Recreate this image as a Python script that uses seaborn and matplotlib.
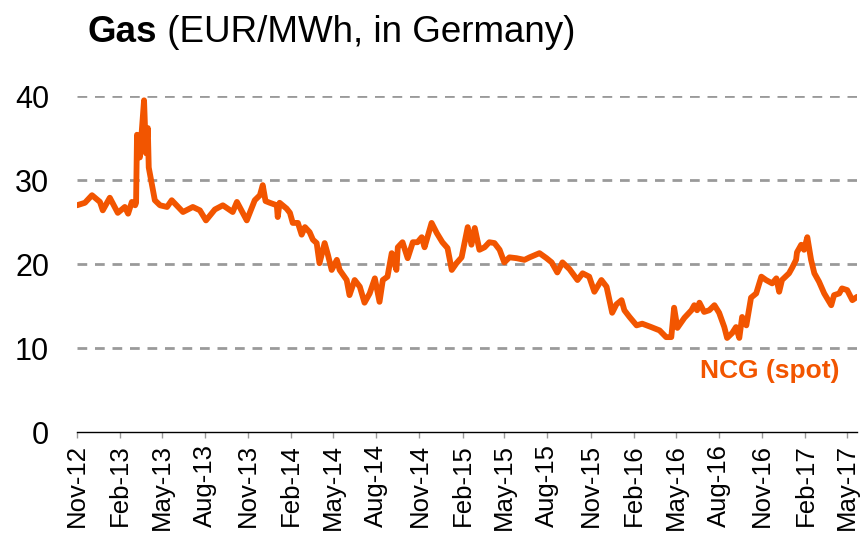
import pandas as pd
import numpy as np
import matplotlib
matplotlib.use("Agg")
import matplotlib.pyplot as plt
import matplotlib.dates as mdates
import seaborn as sns

# NCG spot gas price
dates = [
    "2012-11-01", "2012-11-18", "2012-12-03", "2012-12-20", "2012-12-26",
    "2013-01-10", "2013-01-27", "2013-02-11", "2013-02-18", "2013-02-26",
    "2013-03-05", "2013-03-07", "2013-03-09", "2013-03-15", "2013-03-24",
    "2013-03-28", "2013-04-01", "2013-04-03", "2013-04-16", "2013-04-27",
    "2013-05-12", "2013-05-22", "2013-06-15", "2013-07-06", "2013-07-21",
    "2013-08-03", "2013-08-22", "2013-09-08", "2013-09-29", "2013-10-08",
    "2013-10-29", "2013-11-15", "2013-11-26", "2013-12-02", "2013-12-08",
    "2013-12-17", "2014-01-01", "2014-01-03", "2014-01-07", "2014-01-22",
    "2014-01-29", "2014-02-04", "2014-02-15", "2014-02-23", "2014-03-02",
    "2014-03-12", "2014-03-19", "2014-03-27", "2014-04-02", "2014-04-13",
    "2014-04-20", "2014-04-28", "2014-05-09", "2014-05-15", "2014-05-30",
    "2014-06-05", "2014-06-16", "2014-06-27", "2014-07-07", "2014-07-18",
    "2014-07-29", "2014-08-08", "2014-08-15", "2014-08-25", "2014-09-03",
    "2014-09-13", "2014-09-16", "2014-09-26", "2014-10-07", "2014-10-18",
    "2014-10-28", "2014-11-06", "2014-11-12", "2014-11-27", "2014-12-08",
    "2014-12-20", "2014-12-31", "2015-01-09", "2015-01-19", "2015-01-30",
    "2015-02-12", "2015-02-20", "2015-02-27", "2015-03-09", "2015-03-20",
    "2015-03-30", "2015-04-10", "2015-04-21", "2015-05-01", "2015-05-12",
    "2015-05-27", "2015-06-13", "2015-06-24", "2015-07-15", "2015-07-30",
    "2015-08-10", "2015-08-22", "2015-09-02", "2015-09-17", "2015-10-04",
    "2015-10-15", "2015-10-29", "2015-11-09", "2015-11-24", "2015-12-05",
    "2015-12-17", "2015-12-26", "2016-01-06", "2016-01-12", "2016-01-23",
    "2016-02-07", "2016-02-19", "2016-03-09", "2016-03-27", "2016-04-10",
    "2016-04-21", "2016-04-27", "2016-05-04", "2016-05-19", "2016-06-03",
    "2016-06-09", "2016-06-15", "2016-06-20", "2016-06-30", "2016-07-11",
    "2016-07-22", "2016-08-01", "2016-08-12", "2016-08-18", "2016-08-29",
    "2016-09-06", "2016-09-13", "2016-09-19", "2016-09-28", "2016-10-08",
    "2016-10-19", "2016-10-30", "2016-11-09", "2016-11-22", "2016-12-01",
    "2016-12-07", "2016-12-13", "2016-12-28", "2017-01-04", "2017-01-12",
    "2017-01-14", "2017-01-23", "2017-01-29", "2017-02-05", "2017-02-13",
    "2017-02-20", "2017-03-02", "2017-03-13", "2017-03-28", "2017-04-03",
    "2017-04-14", "2017-04-20", "2017-05-01", "2017-05-12", "2017-05-22",
]
ncg_spot = [
    27.0, 27.3, 28.2, 27.4, 26.4,
    27.9, 26.1, 26.8, 26.0, 27.4,
    27.0, 27.3, 35.4, 32.7, 39.5,
    33.2, 36.2, 31.5, 27.6, 27.0,
    26.8, 27.6, 26.2, 26.8, 26.4,
    25.2, 26.5, 27.0, 26.2, 27.4,
    25.2, 27.6, 28.2, 29.4, 27.5,
    27.3, 27.0, 25.6, 27.3, 26.6,
    26.1, 24.9, 24.9, 23.5, 24.4,
    23.8, 22.9, 22.5, 20.1, 22.5,
    21.1, 19.3, 20.5, 19.3, 18.1,
    16.3, 18.1, 17.3, 15.4, 16.5,
    18.3, 15.5, 18.1, 18.5, 21.3,
    19.3, 22.0, 22.6, 20.7, 22.6,
    22.6, 23.2, 22.0, 24.9, 23.7,
    22.6, 21.9, 19.3, 20.1, 20.8,
    24.4, 22.3, 24.3, 21.7, 22.0,
    22.6, 22.5, 21.7, 20.2, 20.8,
    20.7, 20.5, 20.8, 21.3, 20.7,
    20.2, 19.0, 20.2, 19.4, 18.1,
    18.9, 18.5, 16.7, 18.1, 17.3,
    14.2, 15.2, 15.7, 14.5, 13.7,
    12.7, 12.9, 12.5, 12.1, 11.3,
    11.3, 14.8, 12.4, 13.6, 14.5,
    15.1, 14.5, 15.4, 14.3, 14.5,
    15.1, 14.2, 12.5, 11.2, 11.8,
    12.5, 11.2, 13.7, 12.7, 16.0,
    16.5, 18.5, 18.1, 17.7, 18.3,
    16.7, 18.1, 18.9, 19.6, 20.5,
    21.4, 22.3, 21.7, 23.2, 20.5,
    18.9, 17.9, 16.5, 15.1, 16.3,
    16.5, 17.1, 16.9, 15.7, 16.1,
]
y_ticks = [0, 10, 20, 30, 40]
series_label = "NCG (spot)"

orange = "#F25500"

df = pd.DataFrame({"date": pd.to_datetime(dates), "price": ncg_spot})

sns.set_style("white")
plt.rcParams["font.family"] = ["Liberation Sans", "DejaVu Sans"]
plt.rcParams["text.color"] = "black"
plt.rcParams["xtick.labelcolor"] = "black"
plt.rcParams["ytick.labelcolor"] = "black"

fig = plt.figure(figsize=(8.61, 5.34), dpi=100)
ax = fig.add_axes([0.0894, 0.191, 0.906, 0.629])

sns.lineplot(data=df, x="date", y="price", color=orange, linewidth=4.2, ax=ax)

ax.set_ylim(0, 40)
ax.set_xlim(pd.Timestamp("2012-11-01"), pd.Timestamp("2017-05-22"))
ax.set_yticks(y_ticks)
for v in y_ticks[1:]:
    ax.axhline(v, color="#9a9a9a", linewidth=2, linestyle=(0, (3.5, 2.8)), zorder=0)

xt = pd.date_range("2012-11-01", "2017-05-01", freq="3MS")
ax.set_xticks(xt)
ax.xaxis.set_major_formatter(mdates.DateFormatter("%b-%y"))
ax.tick_params(axis="x", rotation=90, labelsize=18.5, length=4.3, width=1,
               color="#999999", labelcolor="black", direction="out", pad=4.5,
               bottom=True)
ax.tick_params(axis="y", labelsize=22, length=0, pad=20, labelcolor="black")

for s in ["top", "right", "left"]:
    ax.spines[s].set_visible(False)
ax.spines["bottom"].set_color("black")
ax.spines["bottom"].set_linewidth(1)
ax.set_xlabel("")
ax.set_ylabel("")

ax.text(pd.Timestamp("2017-04-14"), 7.3, series_label, color=orange,
        fontsize=19, fontweight="bold", ha="right", va="center")

t1 = fig.text(0.102, 0.921, "Gas", fontsize=26.5, fontweight="bold",
              va="baseline", color="black")
ax.annotate(" (EUR/MWh, in Germany)", xy=(1, 0), xycoords=t1, fontsize=26.5,
            va="bottom", ha="left", color="black")

fig.savefig("out.png", dpi=100)
